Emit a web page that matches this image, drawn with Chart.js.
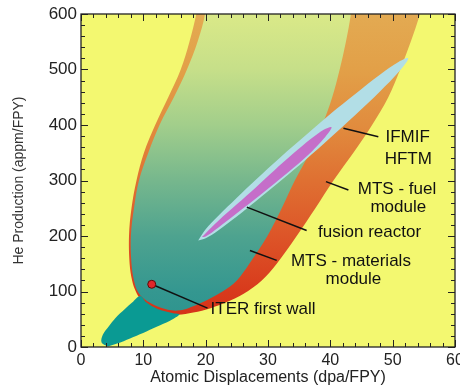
<!DOCTYPE html>
<html>
<head>
<meta charset="utf-8">
<script src="https://cdn.jsdelivr.net/npm/chart.js@4.4.0/dist/chart.umd.min.js"></script>
<style>
  html, body { margin: 0; padding: 0; background: #fff; }
  #chart { display: block; }
</style>
</head>
<body>
<canvas id="chart" width="460" height="387" style="width:460px;height:387px"></canvas>
<script>
'use strict';

// axis ticks
var xTickValues = [0, 10, 20, 30, 40, 50, 60];
var yTickValues = [0, 100, 200, 300, 400, 500, 600];

// outlines (dpa/FPY, appm/FPY)
var mtsX = [19.3, 18.5, 17.4, 16.0, 14.0, 11.9, 10.1, 8.9, 8.1, 7.7, 7.8, 8.2, 8.8, 9.6, 11.5, 13.5, 15.5, 18.0, 20.8, 23.2, 26.1, 29.0, 31.4, 34.6, 37.6, 40.5, 43.7, 46.7, 49.3, 51.2, 52.9, 54.4, 55.7, 19.3];
var mtsY = [650, 600, 550, 500, 450, 400, 350, 300, 250, 200, 150, 120, 100, 86, 71, 61, 58, 62, 70, 80, 96, 120, 150, 200, 250, 300, 350, 400, 450, 500, 550, 600, 650, 650];

var reactorX = [20.3, 19.9, 18.7, 17.0, 14.9, 12.6, 10.8, 9.3, 8.5, 8.0, 8.1, 8.5, 9.1, 10.2, 12.3, 14.5, 15.9, 17.2, 19.4, 22.7, 25.0, 27.0, 29.9, 32.2, 34.3, 36.7, 38.7, 40.3, 41.5, 42.5, 43.3, 43.8, 20.3];
var reactorY = [650, 600, 550, 500, 450, 400, 350, 300, 250, 200, 150, 120, 100, 86, 73, 66, 66, 70, 80, 100, 120, 150, 200, 250, 300, 350, 400, 450, 500, 550, 600, 650, 650];

var iterX = [4.3, 3.3, 3.5, 4.5, 5.5, 7.0, 8.2, 9.5, 10.5, 12.2, 14.8, 15.8, 14.7, 12.7, 10.5, 8.4, 6.3, 4.3];
var iterY = [1, 8, 22, 38, 52, 68, 80, 92, 80, 69, 61, 59, 50, 39, 28, 18, 8, 1];

var ifmifX = [18.8, 20, 22, 25, 28, 32, 36, 40, 44, 48, 51, 52.5, 51, 48, 44, 40, 36, 32, 28, 25, 22, 20, 18.8];
var ifmifY = [192, 212, 236, 269, 301, 342, 381, 420, 456, 491, 514, 520, 496, 461, 418, 377, 337, 299, 262, 235, 210, 196, 192];

var fusionX = [19.4, 20, 22, 25, 28, 31, 34, 37, 39, 40.2, 39, 37, 34, 31, 28, 25, 22, 20, 19.4];
var fusionY = [198, 205, 227, 257, 287, 318, 348, 376, 392, 396, 376, 352, 322, 294, 267, 241, 215, 199, 198];

var iterWallX = [11.35];
var iterWallY = [113];

// label text and where it sits (data coords of the text centre)
var labels = [
  { text: 'IFMIF', at: [52.4, 377] },
  { text: 'HFTM', at: [52.5, 338] },
  { text: 'MTS - fuel', at: [50.7, 284] },
  { text: 'module', at: [50.9, 252] },
  { text: 'fusion reactor', at: [46.3, 206] },
  { text: 'MTS - materials', at: [43.3, 155] },
  { text: 'module', at: [43.7, 122] },
  { text: 'ITER first wall', at: [29.2, 68] }
];
var pointers = [
  [[42.1, 394], [47.7, 379]],
  [[39.3, 298], [42.9, 283]],
  [[26.6, 252], [36.2, 210]],
  [[27.1, 174], [31.4, 156]],
  [[11.35, 113], [20.3, 70]]
];

var FONT = '"Liberation Sans", Arial, Helvetica, sans-serif';

var greenStops = [[600, 'rgb(218,233,136)'], [500, 'rgb(198,223,137)'], [400, 'rgb(162,206,139)'],
  [300, 'rgb(118,183,141)'], [200, 'rgb(78,163,143)'], [100, 'rgb(52,151,144)'], [0, 'rgb(40,145,140)']];
var orangeStops = [[600, 'rgb(227,170,82)'], [500, 'rgb(226,160,72)'], [400, 'rgb(225,140,62)'],
  [300, 'rgb(223,112,50)'], [200, 'rgb(221,85,40)'], [100, 'rgb(216,58,28)'], [0, 'rgb(210,40,20)']];

function yGradient(stops) {
  return function (c) {
    var chart = c.chart;
    if (!chart.chartArea) return 'rgba(0,0,0,0)';
    var y = chart.scales.y;
    var g = chart.ctx.createLinearGradient(0, y.getPixelForValue(600), 0, y.getPixelForValue(0));
    stops.forEach(function (s) { g.addColorStop((600 - s[0]) / 600, s[1]); });
    return g;
  };
}

function toPoints(xs, ys) {
  return xs.map(function (x, i) { return { x: x, y: ys[i] }; });
}

function region(label, xs, ys, color, order) {
  return {
    label: label,
    data: toPoints(xs, ys),
    showLine: true,
    fill: 'shape',
    tension: 0.35,
    borderWidth: 0,
    borderColor: 'rgba(0,0,0,0)',
    backgroundColor: color,
    pointRadius: 0,
    order: order
  };
}

var backgroundAndFrame = {
  id: 'backgroundAndFrame',
  beforeDatasetsDraw: function (chart) {
    var a = chart.chartArea, ctx = chart.ctx;
    ctx.save();
    ctx.fillStyle = '#F3F870';
    ctx.fillRect(a.left, a.top, a.right - a.left, a.bottom - a.top);
    ctx.restore();
  },
  afterDatasetDraw: function (chart, args) {
    if (chart.data.datasets[args.index].label !== 'fusion reactor') return;
    var ctx = chart.ctx, xs = chart.scales.x, ys = chart.scales.y;
    ctx.save();
    ctx.strokeStyle = '#111';
    ctx.lineWidth = 1.5;
    pointers.forEach(function (p) {
      ctx.beginPath();
      ctx.moveTo(xs.getPixelForValue(p[0][0]), ys.getPixelForValue(p[0][1]));
      ctx.lineTo(xs.getPixelForValue(p[1][0]), ys.getPixelForValue(p[1][1]));
      ctx.stroke();
    });
    ctx.fillStyle = '#111';
    ctx.font = '17px ' + FONT;
    ctx.textAlign = 'center';
    ctx.textBaseline = 'middle';
    labels.forEach(function (l) {
      ctx.fillText(l.text, xs.getPixelForValue(l.at[0]), ys.getPixelForValue(l.at[1]));
    });
    ctx.restore();
  },
  afterDraw: function (chart) {
    var a = chart.chartArea, ctx = chart.ctx, xs = chart.scales.x, ys = chart.scales.y;
    var v, p, len;
    ctx.save();
    ctx.strokeStyle = '#222';
    ctx.lineWidth = 1;
    ctx.beginPath();
    for (v = 0; v <= 60; v += 2) {
      p = Math.round(xs.getPixelForValue(v)) + 0.5;
      len = v % 10 === 0 ? 7 : 4;
      ctx.moveTo(p, a.bottom); ctx.lineTo(p, a.bottom - len);
      ctx.moveTo(p, a.top); ctx.lineTo(p, a.top + len);
    }
    for (v = 0; v <= 600; v += 20) {
      p = Math.round(ys.getPixelForValue(v)) + 0.5;
      len = v % 100 === 0 ? 7 : 4;
      ctx.moveTo(a.left, p); ctx.lineTo(a.left + len, p);
      ctx.moveTo(a.right, p); ctx.lineTo(a.right - len, p);
    }
    ctx.stroke();
    ctx.lineWidth = 1.3;
    ctx.strokeRect(a.left, a.top, a.right - a.left, a.bottom - a.top);
    ctx.restore();
  }
};

var ctx = document.getElementById('chart').getContext('2d');
new Chart(ctx, {
  type: 'scatter',
  data: {
    datasets: [
      region('MTS', mtsX, mtsY, yGradient(orangeStops), 6),
      region('reactor range', reactorX, reactorY, yGradient(greenStops), 5),
      region('ITER', iterX, iterY, '#0A9A93', 4),
      region('IFMIF HFTM', ifmifX, ifmifY, '#B2DEE6', 3),
      region('fusion reactor', fusionX, fusionY, '#C56EC9', 2),
      {
        label: 'ITER first wall',
        data: toPoints(iterWallX, iterWallY),
        pointRadius: 4,
        pointBackgroundColor: '#E0262A',
        pointBorderColor: '#5a0a0a',
        pointBorderWidth: 1,
        order: 0
      }
    ]
  },
  options: {
    responsive: false,
    animation: false,
    devicePixelRatio: 1,
    layout: { padding: { top: 14, right: 5, left: 0, bottom: 0 } },
    elements: { line: { capBezierPoints: false } },
    plugins: { legend: { display: false }, tooltip: { enabled: false } },
    scales: {
      x: {
        type: 'linear', min: 0, max: 60,
        afterBuildTicks: function (s) { s.ticks = xTickValues.map(function (v) { return { value: v }; }); },
        ticks: { font: { family: FONT, size: 16 }, color: '#222', padding: 4, maxRotation: 0, autoSkip: false },
        grid: { display: false, drawTicks: false },
        border: { display: false },
        title: { display: true, text: 'Atomic Displacements (dpa/FPY)', font: { family: FONT, size: 16 }, color: '#222', padding: { top: 0, bottom: 0 } },
        afterFit: function (s) { s.height = 40; s.paddingLeft = 0; s.paddingRight = 0; }
      },
      y: {
        type: 'linear', min: 0, max: 600,
        afterBuildTicks: function (s) { s.ticks = yTickValues.map(function (v) { return { value: v }; }); },
        ticks: { font: { family: FONT, size: 17 }, color: '#222', padding: 4, autoSkip: false },
        grid: { display: false, drawTicks: false },
        border: { display: false },
        title: { display: true, text: 'He Production (appm/FPY)', font: { family: FONT, size: 14 }, color: '#333', padding: { top: 11, bottom: 0 } },
        afterFit: function (s) { s.width = 81; s.paddingTop = 0; s.paddingBottom = 0; }
      }
    }
  },
  plugins: [backgroundAndFrame]
});
</script>
</body>
</html>
